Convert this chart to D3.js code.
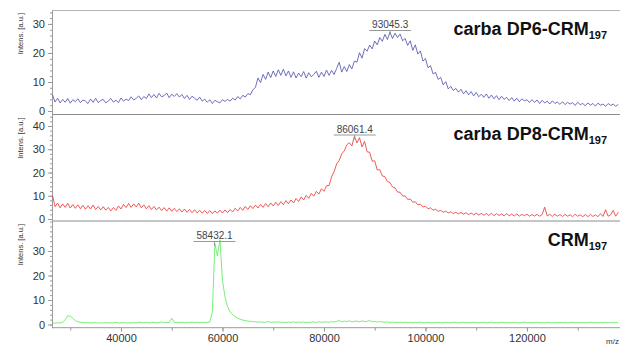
<!DOCTYPE html>
<html>
<head>
<meta charset="utf-8">
<script src="https://cdn.jsdelivr.net/npm/d3@7"></script>
<style>
  html, body { margin: 0; padding: 0; background: #fff; }
  svg { display: block; font-family: "Liberation Sans", Arial, sans-serif; }
</style>
</head>
<body>
<svg id="chart" width="620" height="345"></svg>
<script>
// m/z sampling grid of the three spectra (Da)
const mzStart = 26500;
const mzStep = 500;

// carba DP6-CRM197 intensities
const dp6 = [
  5.6, 3.1, 4.4, 2.8, 4.0, 3.0, 4.3, 2.7, 3.9, 3.2,
  4.2, 2.9, 3.8, 3.4, 2.6, 4.1, 3.0, 4.4, 2.9, 3.6,
  4.0, 2.8, 3.5, 4.3, 3.1, 3.7, 2.9, 4.5, 3.4, 4.1,
  3.6, 4.9, 3.8, 4.4, 5.2, 3.9, 5.0, 4.3, 5.9, 4.6,
  5.7, 4.5, 6.1, 4.9, 5.3, 6.2, 4.6, 5.8, 5.0, 6.0,
  4.8, 5.7, 4.3, 5.4, 4.0, 5.1, 4.4, 3.7, 4.8, 3.4,
  4.1, 3.0, 3.9, 2.6, 3.7, 3.2, 2.8, 3.9, 3.3, 4.0,
  3.4, 4.4, 3.8, 5.0, 4.2, 5.4, 4.8, 6.0, 5.6, 7.3,
  8.2, 11.4, 9.8, 12.6, 10.9, 13.4, 11.5, 13.8, 11.9, 14.2,
  12.3, 14.4, 12.1, 13.8, 11.6, 13.5, 11.4, 13.1, 11.8, 13.6,
  11.3, 13.2, 11.8, 12.6, 13.7, 11.6, 13.4, 11.9, 14.1, 12.3,
  14.0, 12.6, 14.7, 16.8, 13.4, 15.3, 13.6, 16.0, 14.5, 17.2,
  16.8, 20.1, 18.2, 21.5, 20.6, 22.7, 21.4, 24.1, 22.8, 25.3,
  24.0, 26.4, 24.6, 27.2, 25.0, 26.8, 25.3, 26.5, 24.2, 25.0,
  22.6, 24.2, 20.9, 22.8, 19.6, 20.7, 17.2, 18.1, 14.9, 15.6,
  12.8, 13.3, 10.9, 11.6, 9.0, 10.1, 7.6, 8.5, 7.1, 7.8,
  6.5, 7.5, 5.9, 7.0, 5.6, 6.7, 5.2, 6.4, 4.9, 5.8,
  4.7, 5.9, 4.4, 5.5, 4.2, 5.3, 3.9, 5.1, 4.0, 4.7,
  3.6, 4.6, 3.4, 4.4, 3.2, 4.2, 3.5, 3.9, 2.9, 3.9,
  3.0, 3.8, 2.6, 3.7, 2.8, 3.4, 2.4, 3.5, 2.6, 3.1,
  2.3, 3.2, 2.2, 3.0, 2.4, 2.9, 1.9, 3.0, 2.2, 2.6,
  1.8, 2.8, 2.0, 2.6, 1.7, 2.7, 2.0, 2.4, 1.6, 2.6,
  1.9, 2.4, 1.6, 2.3
];

// carba DP8-CRM197 intensities
const dp8 = [
  10.2, 5.3, 6.9, 4.8, 6.5, 5.0, 6.8, 4.7, 6.2, 4.6,
  6.1, 4.4, 5.9, 4.2, 5.7, 4.3, 6.0, 4.1, 5.4, 3.9,
  5.3, 3.8, 5.0, 3.5, 4.9, 3.7, 5.6, 4.3, 6.3, 4.9,
  6.7, 5.0, 6.5, 5.2, 6.8, 4.8, 6.1, 4.4, 5.7, 4.1,
  5.4, 3.9, 5.1, 3.6, 4.9, 3.4, 4.8, 3.3, 4.6, 3.2,
  4.4, 3.0, 4.3, 2.9, 4.1, 2.7, 4.0, 2.6, 3.8, 2.5,
  3.7, 2.4, 3.6, 2.3, 3.5, 2.5, 3.8, 2.6, 3.9, 2.7,
  4.1, 3.0, 4.6, 3.4, 5.0, 3.7, 5.4, 4.1, 5.7, 4.5,
  6.0, 4.7, 6.3, 5.0, 6.7, 5.3, 6.9, 5.6, 7.2, 5.8,
  7.5, 6.2, 7.9, 6.5, 8.2, 6.9, 8.8, 7.5, 9.5, 8.2,
  10.2, 8.9, 11.0, 9.8, 11.9, 10.7, 13.0, 11.9, 14.3, 14.4,
  18.1, 20.4, 23.7, 25.2, 28.0, 29.3, 31.9, 32.8, 31.4, 35.6,
  32.7, 35.0, 31.0, 33.4, 28.9, 28.7, 24.9, 25.0, 21.1, 21.2,
  18.5, 18.2, 16.1, 15.7, 13.8, 13.4, 11.6, 11.5, 9.9, 9.9,
  8.4, 8.6, 7.2, 7.4, 6.1, 6.4, 5.2, 5.5, 4.4, 4.8,
  3.8, 4.2, 3.3, 3.7, 2.9, 3.4, 2.6, 3.1, 2.3, 2.9,
  2.2, 2.8, 2.1, 2.7, 1.9, 2.6, 1.8, 2.5, 1.7, 2.4,
  1.6, 2.4, 1.5, 2.5, 1.4, 2.3, 1.5, 2.2, 1.3, 2.3,
  1.4, 2.1, 1.3, 2.2, 1.2, 2.0, 1.4, 2.1, 1.2, 1.9,
  1.3, 2.0, 1.2, 1.9, 5.1, 1.3, 2.0, 1.1, 2.1, 1.2,
  1.9, 1.1, 2.0, 1.2, 1.8, 1.0, 2.1, 1.2, 1.8, 1.0,
  1.9, 1.0, 2.0, 1.1, 1.8, 1.0, 2.3, 1.1, 4.0, 1.2,
  1.8, 3.7, 1.2, 2.9
];

// CRM197 intensities
const crm = [
  0.5, 0.6, 0.7, 0.6, 0.9, 2.0, 3.6, 3.4, 2.5, 1.6,
  1.1, 0.9, 0.8, 0.7, 0.8, 0.6, 0.7, 0.8, 0.6, 0.7,
  0.6, 0.8, 0.7, 0.6, 0.7, 0.9, 0.6, 0.7, 0.8, 0.6,
  0.7, 0.6, 0.8, 0.7, 1.0, 0.8, 0.7, 0.9, 0.7, 0.8,
  0.9, 0.7, 0.8, 1.1, 0.7, 0.8, 0.9, 2.6, 0.8, 0.9,
  0.8, 0.9, 0.7, 0.9, 0.8, 1.0, 0.8, 0.9, 0.8, 0.9,
  0.8, 0.9, 1.0, 5.0, 33.0, 28.0, 34.6, 18.0, 11.2, 7.3,
  5.2, 4.0, 3.2, 2.6, 2.1, 1.8, 1.6, 1.4, 1.3, 1.2,
  1.1, 1.0, 1.1, 0.9, 1.0, 1.2, 0.9, 1.0, 0.9, 1.1,
  0.9, 1.0, 0.8, 1.0, 0.9, 1.1, 0.8, 1.0, 0.9, 1.0,
  0.8, 1.0, 0.9, 1.1, 0.8, 1.2, 0.9, 1.0, 1.1, 0.9,
  1.2, 1.0, 1.3, 1.6, 1.1, 1.4, 1.2, 1.5, 1.1, 1.3,
  1.4, 1.1, 1.5, 1.2, 1.3, 1.6, 1.1, 1.3, 1.0, 1.2,
  1.0, 0.9, 1.1, 0.8, 1.0, 0.9, 0.8, 1.0, 0.8, 0.9,
  0.8, 0.9, 0.7, 0.9, 0.8, 1.0, 0.7, 0.8, 0.9, 0.7,
  0.8, 0.7, 0.9, 0.8, 0.7, 0.9, 0.8, 0.7, 1.0, 0.8,
  0.7, 0.8, 0.9, 0.7, 0.8, 0.7, 0.9, 0.8, 0.7, 0.8,
  0.9, 0.7, 0.8, 1.0, 0.7, 0.8, 0.7, 0.9, 0.8, 0.7,
  0.8, 0.7, 0.9, 0.8, 0.7, 0.8, 1.0, 0.7, 0.8, 0.7,
  0.8, 0.9, 0.7, 0.8, 0.7, 0.9, 0.8, 0.7, 0.8, 0.7,
  0.9, 0.7, 0.8, 0.7, 0.8, 0.9, 0.7, 0.8, 0.7, 0.8,
  0.7, 0.8, 0.9, 0.7, 0.8, 0.7, 0.8, 0.7, 0.9, 0.7,
  0.8, 0.7, 0.8, 0.7
];

const titles = ['carba DP6-CRM', 'carba DP8-CRM', 'CRM'];
const titleSubs = ['197', '197', '197'];
const peakMz = [93045.3, 86061.4, 58432.1];
const peakLabels = ['93045.3', '86061.4', '58432.1'];
const yTickSets = [[0, 10, 20, 30], [0, 10, 20, 30, 40], [0, 10, 20, 30]];
const xTicks = [40000, 60000, 80000, 100000, 120000];
const yLabel = 'Intens. [a.u.]';
const xUnit = 'm/z';

// --- Layout ---
const svg = d3.select('#chart');
const left = 52, right = 620;
const axisColor = '#9a9a9a';
const textColor = '#333';

const panels = [
  { data: dp6, color: '#5656b2', top: 10, bottom: 114.5, domain: [-1.2, 34.8] },
  { data: dp8, color: '#f03c3c', top: 114.5, bottom: 221, domain: [-0.86, 44.95] },
  { data: crm, color: '#62e862', top: 221, bottom: 327.7, domain: [-1.3, 42.24] }
];

const x = d3.scaleLinear()
  .domain([26400, 138340])
  .range([left, right]);

// top border of the stack
svg.append('line')
  .attr('x1', left).attr('x2', right)
  .attr('y1', 10.5).attr('y2', 10.5)
  .attr('stroke', '#b5b5b5');

panels.forEach((p, k) => {
  const y = d3.scaleLinear().domain(p.domain).range([p.bottom, p.top]);
  const g = svg.append('g');

  // minor ticks every 2 units
  g.append('g')
    .attr('transform', `translate(${left},0)`)
    .call(d3.axisLeft(y).tickValues(d3.range(0, p.domain[1], 2)).tickSize(2).tickFormat(''))
    .call(s => s.select('.domain').remove())
    .selectAll('line').attr('stroke', axisColor);

  // major ticks with labels
  g.append('g')
    .attr('transform', `translate(${left},0)`)
    .call(d3.axisLeft(y).tickValues(yTickSets[k]).tickSize(4).tickPadding(3).tickSizeOuter(0))
    .call(s => s.select('.domain').attr('stroke', axisColor))
    .call(s => s.selectAll('line').attr('stroke', axisColor))
    .selectAll('text')
    .attr('fill', textColor)
    .style('font-size', '11px');

  // panel bottom line
  g.append('line')
    .attr('x1', left).attr('x2', right)
    .attr('y1', p.bottom).attr('y2', p.bottom)
    .attr('stroke', k < 2 ? '#8c8c8c' : axisColor);

  // y title
  g.append('text')
    .attr('transform', `translate(23,${p.top + 3}) rotate(-90)`)
    .attr('text-anchor', 'end')
    .attr('fill', textColor)
    .style('font-size', '7.5px')
    .text(yLabel);

  // spectrum
  const line = d3.line()
    .x((d, i) => x(mzStart + i * mzStep))
    .y(d => y(d));

  g.append('path')
    .datum(p.data)
    .attr('fill', 'none')
    .attr('stroke', p.color)
    .attr('stroke-width', 0.85)
    .attr('stroke-linejoin', 'round')
    .attr('d', line);

  // peak annotation
  const px = x(peakMz[k]);
  const ly = p.top + 18;
  g.append('text')
    .attr('x', px).attr('y', ly)
    .attr('text-anchor', 'middle')
    .attr('fill', '#444')
    .style('font-size', '10px')
    .text(peakLabels[k]);
  g.append('line')
    .attr('x1', px - 21).attr('x2', px + 21)
    .attr('y1', ly + 2.5).attr('y2', ly + 2.5)
    .attr('stroke', '#999');
  g.append('line')
    .attr('x1', px).attr('x2', px)
    .attr('y1', ly + 2.5).attr('y2', ly + 7)
    .attr('stroke', '#999');

  // sample title with subscript
  const t = g.append('text')
    .attr('x', 607).attr('y', p.top + 25)
    .attr('text-anchor', 'end')
    .attr('fill', '#111')
    .style('font-size', '18px')
    .style('font-weight', 'bold');
  t.append('tspan').text(titles[k]);
  t.append('tspan')
    .attr('dy', 4)
    .style('font-size', '11px')
    .text(titleSubs[k]);
});

// --- X axis (bottom panel) ---
const xAxisY = panels[2].bottom;
svg.append('g')
  .attr('transform', `translate(0,${xAxisY})`)
  .call(d3.axisBottom(x).tickValues(d3.range(30000, 138001, 10000)).tickSize(3).tickFormat(''))
  .call(s => s.select('.domain').remove())
  .selectAll('line').attr('stroke', axisColor);

svg.append('g')
  .attr('transform', `translate(0,${xAxisY})`)
  .call(d3.axisBottom(x).tickValues(xTicks).tickSize(4).tickPadding(3).tickFormat(d3.format('d')))
  .call(s => s.select('.domain').remove())
  .call(s => s.selectAll('line').attr('stroke', axisColor))
  .selectAll('text')
  .attr('fill', textColor)
  .style('font-size', '11px');

// axis unit in the bottom right corner
svg.append('text')
  .attr('x', 619).attr('y', 344)
  .attr('text-anchor', 'end')
  .attr('fill', textColor)
  .style('font-size', '8px')
  .text(xUnit);
</script>
</body>
</html>
